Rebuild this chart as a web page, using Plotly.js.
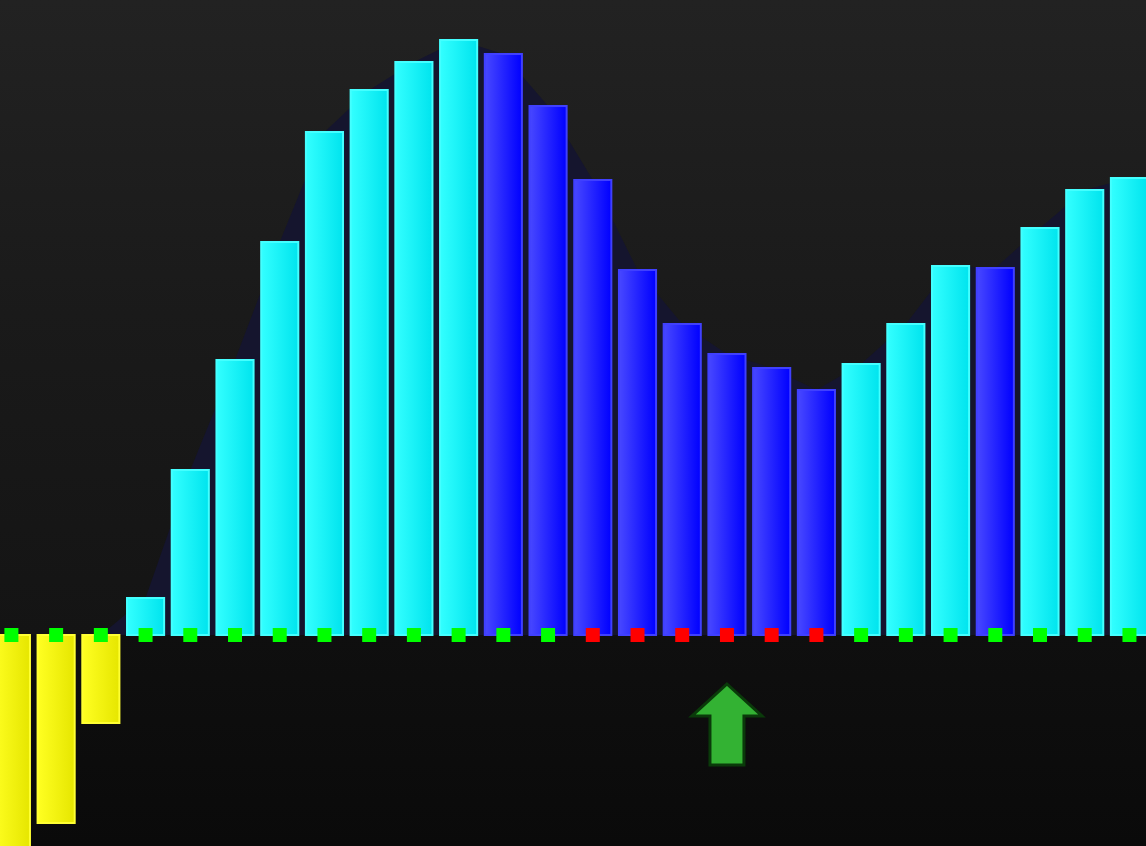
<!DOCTYPE html>
<html>
<head>
<meta charset="utf-8">
<script src="https://cdn.plot.ly/plotly-3.0.1.min.js"></script>
<style>
  html, body { margin: 0; padding: 0; }
  body {
    width: 1146px; height: 846px; overflow: hidden;
    background: linear-gradient(to bottom, #222222 0%, #1a1a1a 37%, #141414 74.9%, #0f0f0f 75.1%, #0a0a0a 100%);
  }
  #chart { width: 1146px; height: 846px; }
</style>
</head>
<body>
<div id="chart"></div>
<script>
// ---- data ----
const categories = [0,1,2,3,4,5,6,7,8,9,10,11,12,13,14,15,16,17,18,19,20,21,22,23,24,25];
const histValues = [-2.40,-1.88,-0.88,0.37,1.65,2.75,3.93,5.03,5.45,5.73,5.95,5.81,5.29,4.55,3.65,3.11,2.81,2.67,2.45,2.71,3.11,3.69,3.67,4.07,4.45,4.57];
const barKinds = ['neg','neg','neg','up','up','up','up','up','up','up','up','down','down','down','down','down','down','down','down','up','up','up','down','up','up','up'];
const signalStates = ['buy','buy','buy','buy','buy','buy','buy','buy','buy','buy','buy','buy','buy','sell','sell','sell','sell','sell','sell','buy','buy','buy','buy','buy','buy','buy'];
const arrowIndex = [16];
const arrowValue = [-0.49];

// ---- styles ----
const kindFill = { up: '#14f2f6', down: '#2020ff', neg: '#f6f610' };
const kindLine = { up: '#44ffff', down: '#4040ff', neg: '#ffff33' };
const kindGrad = { up: ['#33ffff', '#00e4ee'], down: ['#4848ff', '#0000ff'], neg: ['#ffff22', '#e6e600'] };
const stateColor = { buy: '#00ff00', sell: '#ff0000' };

const areaValues = histValues.map(v => Math.max(0, v));

const traces = [
  {
    type: 'scatter', mode: 'lines', x: categories, y: areaValues, xaxis: 'x', yaxis: 'y',
    fill: 'tozeroy', fillcolor: '#15152e', line: { width: 0, color: '#15152e' },
    hoverinfo: 'skip', showlegend: false
  },
  {
    type: 'bar', x: categories, y: histValues, width: 0.83, xaxis: 'x2', yaxis: 'y2',
    marker: {
      color: barKinds.map(k => kindFill[k]),
      line: { color: barKinds.map(k => kindLine[k]), width: 2 }
    },
    showlegend: false
  },
  {
    type: 'scatter', mode: 'markers', x: categories, y: categories.map(() => 0), xaxis: 'x2', yaxis: 'y2',
    marker: { symbol: 'square', size: 14, color: signalStates.map(s => stateColor[s]), line: { width: 0 } },
    showlegend: false, cliponaxis: false
  }
];

const arrowPath = 'M0,0 L35,-32 L17,-32 L17,-81 L-17,-81 L-17,-32 L-35,-32 Z';
const xRange = [-0.255, 25.37];
const yRange = [-2.11, 6.35];

const layout = {
  width: 1146, height: 846, autosize: false,
  margin: { l: 0, r: 0, t: 0, b: 0, pad: 0 },
  paper_bgcolor: 'rgba(0,0,0,0)', plot_bgcolor: 'rgba(0,0,0,0)',
  barmode: 'overlay',
  showlegend: false,
  xaxis: { range: xRange, visible: false, fixedrange: true },
  yaxis: { range: yRange, visible: false, fixedrange: true },
  xaxis2: { range: xRange, visible: false, fixedrange: true, overlaying: 'x' },
  yaxis2: { range: yRange, visible: false, fixedrange: true, overlaying: 'y' },
  shapes: arrowIndex.map((xi, i) => ({
    type: 'path', xref: 'x2', yref: 'y2',
    xsizemode: 'pixel', ysizemode: 'pixel',
    xanchor: xi, yanchor: arrowValue[i],
    path: arrowPath,
    fillcolor: '#33b233', line: { color: '#0a3a0a', width: 3 },
    layer: 'above'
  }))
};

Plotly.newPlot('chart', traces, layout, { displayModeBar: false, staticPlot: true }).then(gd => {
  const svg = gd.querySelector('.main-svg');
  let defs = svg.querySelector('defs');
  if (!defs) { defs = document.createElementNS('http://www.w3.org/2000/svg', 'defs'); svg.insertBefore(defs, svg.firstChild); }
  Object.keys(kindGrad).forEach(k => {
    const g = document.createElementNS('http://www.w3.org/2000/svg', 'linearGradient');
    g.setAttribute('id', 'grad-' + k);
    g.setAttribute('x1', '0'); g.setAttribute('x2', '1'); g.setAttribute('y1', '0'); g.setAttribute('y2', '0');
    [[0, kindGrad[k][0]], [1, kindGrad[k][1]]].forEach(([o, c]) => {
      const s = document.createElementNS('http://www.w3.org/2000/svg', 'stop');
      s.setAttribute('offset', String(o)); s.setAttribute('stop-color', c);
      g.appendChild(s);
    });
    defs.appendChild(g);
  });
  const paths = gd.querySelectorAll('.barlayer .point path');
  paths.forEach((p, i) => {
    const k = barKinds[i];
    if (k) p.style.fill = 'url(#grad-' + k + ')';
  });
});
</script>
</body>
</html>
